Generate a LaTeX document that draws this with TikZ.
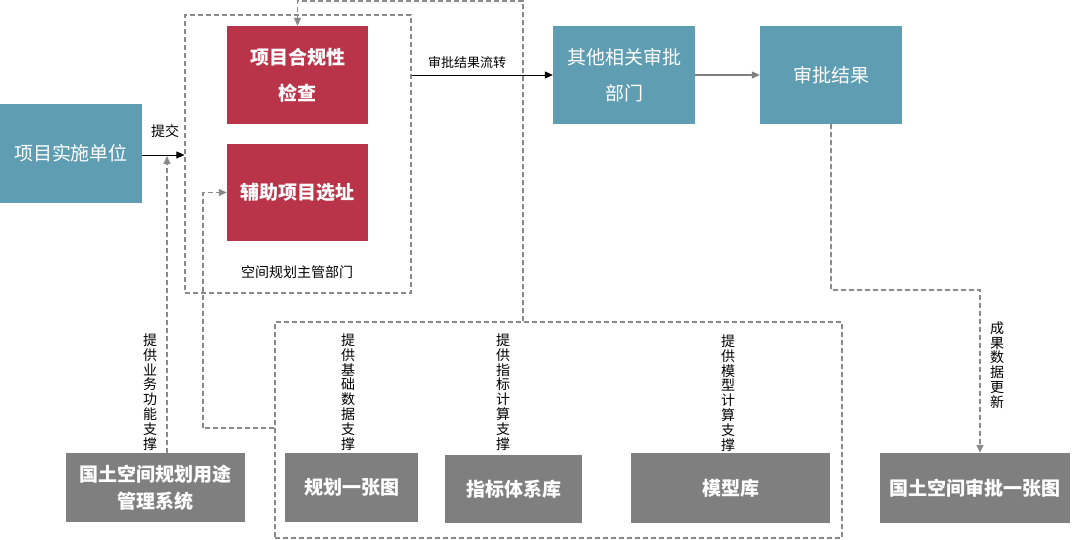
\documentclass[tikz,border=0pt]{standalone}
\usepackage{fontspec}
\setmainfont{Noto Sans CJK SC}
\usetikzlibrary{arrows.meta}
\definecolor{teal1}{HTML}{5F9DB3}
\definecolor{red1}{HTML}{BA3449}
\definecolor{gray1}{HTML}{7F7F7F}
\definecolor{dash1}{HTML}{8A8A8A}
\tikzset{
  tealbox/.style={fill=teal1, text=white, font=\fontsize{19}{36}\selectfont, align=center, inner sep=0pt},
  redbox/.style={fill=red1, text=white, font=\fontsize{19}{36}\selectfont\bfseries, align=center, inner sep=0pt},
  graybox/.style={fill=gray1, text=white, font=\fontsize{19}{27}\selectfont\bfseries, align=center, inner sep=0pt},
  grp/.style={draw=dash1, line width=1.2pt, dash pattern=on 5pt off 3pt, inner sep=0pt},
  darr/.style={draw=dash1, line width=1.5pt, dash pattern=on 5pt off 3pt, -{Triangle[length=8pt,width=7pt]}},
  sarr/.style={draw=black, line width=0.8pt, -{Triangle[length=8pt,width=7pt]}},
  garr/.style={draw=gray1, line width=1.2pt, -{Triangle[length=8pt,width=7pt]}},
  lbl/.style={font=\fontsize{13}{15}\selectfont, inner sep=0pt},
  vlbl/.style={font=\fontsize{14}{14.8}\selectfont, align=center, inner sep=0pt}
}
\begin{document}
\begin{tikzpicture}[x=1pt, y=-1pt]
\path[fill=white, use as bounding box] (0,0) rectangle (1080,540);
% group boxes
\node[grp, minimum width=226pt, minimum height=278pt] (grp1) at (298,154) {};
\node[lbl, font=\fontsize{14}{16}\selectfont] (grplbl) at (297,272) {空间规划主管部门};
\node[grp, minimum width=567pt, minimum height=216pt] (low) at (558.5,430) {};
% main boxes
\node[tealbox, minimum width=142pt, minimum height=99pt] (unit) at (71,153.5) {项目实施单位};
\node[redbox, minimum width=141pt, minimum height=98pt] (red1) at (297.5,75) {项目合规性\\检查};
\node[redbox, minimum width=141pt, minimum height=97pt] (red2) at (297.5,192.5) {辅助项目选址};
\node[tealbox, minimum width=142pt, minimum height=98pt] (other) at (624,75) {其他相关审批\\部门};
\node[tealbox, minimum width=142pt, minimum height=98pt] (result) at (831,75) {审批结果};
\node[graybox, minimum width=179pt, minimum height=69pt] (sys) at (155.5,487.5) {国土空间规划用途\\管理系统};
\node[graybox, minimum width=133pt, minimum height=69pt] (plan) at (351.5,487.5) {规划一张图};
\node[graybox, minimum width=137pt, minimum height=68pt] (index) at (513.5,489) {指标体系库};
\node[graybox, minimum width=199pt, minimum height=70pt] (model) at (730.5,488) {模型库};
\node[graybox, minimum width=190pt, minimum height=70pt] (gt) at (975,488) {国土空间审批一张图};
% connectors
\draw[sarr] (unit.east |- 0,155) -- (grp1.west |- 0,155);
\node[lbl, font=\fontsize{14}{16}\selectfont] (tj) at (165,131) {提交};
\coordinate (subm) at (167,156);
\draw[darr] (sys.north -| subm) -- (subm);
\draw[darr] ([yshift=2pt]low.west) -| ([xshift=-24pt]red2.west) -- (red2.west);
\coordinate (tr) at (523,1);
\draw[darr] (tr |- low.north) -- (tr) -| (red1.north);
\draw[sarr] (grp1.east |- other.west) -- (other.west);
\node[lbl] (flow) at (467,63) {审批结果流转};
\draw[garr] (other.east) -- (result.west);
\coordinate (rb) at (831,290);
\draw[darr] (result.south) -- (rb) -| ([xshift=5pt]gt.north);
% vertical labels
\node[vlbl] (v1) at (150,392) {提\\供\\业\\务\\功\\能\\支\\撑};
\node[vlbl] (v2) at (348,392) {提\\供\\基\\础\\数\\据\\支\\撑};
\node[vlbl] (v3) at (503,392) {提\\供\\指\\标\\计\\算\\支\\撑};
\node[vlbl] (v4) at (728,393) {提\\供\\模\\型\\计\\算\\支\\撑};
\node[vlbl] (v5) at (997,365) {成\\果\\数\\据\\更\\新};
\end{tikzpicture}
\end{document}
